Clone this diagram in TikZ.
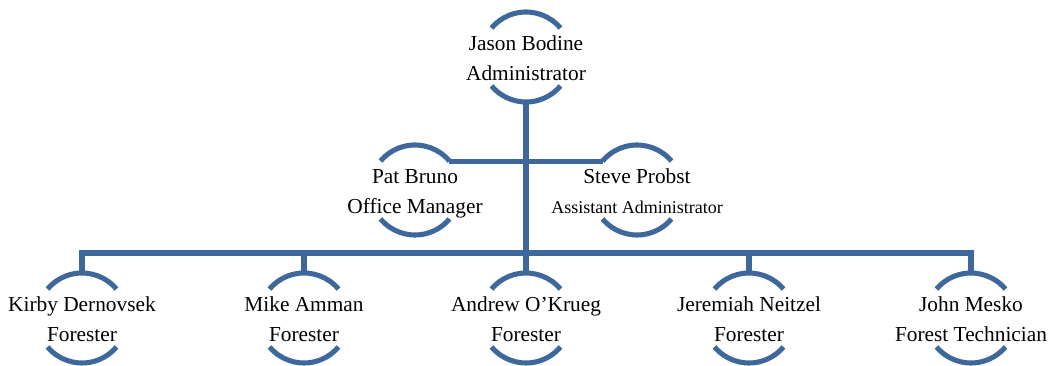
\documentclass[tikz,border=0pt]{standalone}
\usepackage{fontspec}
\setmainfont{Liberation Serif}
\usepackage{xcolor}
\usepackage{tikz}
\definecolor{orgblue}{RGB}{62,104,155}

\begin{document}
\begin{tikzpicture}[
  x=0.75pt, y=-0.75pt,
  ring/.style={circle, minimum size=67.5pt, inner sep=0pt, outer sep=0pt},
  person/.style={align=center, inner sep=0pt, yshift=-2pt,
    font=\fontsize{16}{22.5}\selectfont},
  link/.style={draw=orgblue, line width=3.8pt},
  rim/.style={draw=orgblue, line width=3.8pt}
]
\useasboundingbox (0,0) rectangle (1051,366);

\node[ring] (jason) at (526,57) {};
\node[ring] (pat) at (415,190) {};
\node[ring] (steve) at (637,190) {};
\node[ring] (kirby) at (82,318) {};
\node[ring] (mike) at (304,318) {};
\node[ring] (andrew) at (526,318) {};
\node[ring] (jeremiah) at (749,318) {};
\node[ring] (john) at (971,318) {};

\foreach \p in {jason,pat,steve,kirby,mike,andrew,jeremiah,john}{
  \draw[rim] (\p.40) arc[start angle=40, end angle=140, radius=33.75pt];
  \draw[rim] (\p.220) arc[start angle=220, end angle=320, radius=33.75pt];
}

\node[person] (jason-t) at (jason) {\strut Jason Bodine\\\strut Administrator};
\node[person] (pat-t) at (pat) {\strut Pat Bruno\\\strut Office Manager};
\node[person] (steve-t) at (steve) {\strut Steve Probst\\\strut{\fontsize{13.5}{22.5}\selectfont Assistant Administrator}};
\node[person] (kirby-t) at (kirby) {\strut Kirby Dernovsek\\\strut Forester};
\node[person] (mike-t) at (mike) {\strut Mike Amman\\\strut Forester};
\node[person] (andrew-t) at (andrew) {\strut Andrew O’Krueg\\\strut Forester};
\node[person] (jeremiah-t) at (jeremiah) {\strut Jeremiah Neitzel\\\strut Forester};
\node[person] (john-t) at (john) {\strut John Mesko\\\strut Forest Technician};

\coordinate (bus) at (526,253);
\draw[link] (jason.south) -- (andrew.north);
\draw[link] (pat.40) -- (steve.140);
\draw[link] (kirby.north) |- (bus) -| (john.north);
\draw[link] (mike.north) -- (mike.north |- bus);
\draw[link] (jeremiah.north) -- (jeremiah.north |- bus);
\end{tikzpicture}
\end{document}
